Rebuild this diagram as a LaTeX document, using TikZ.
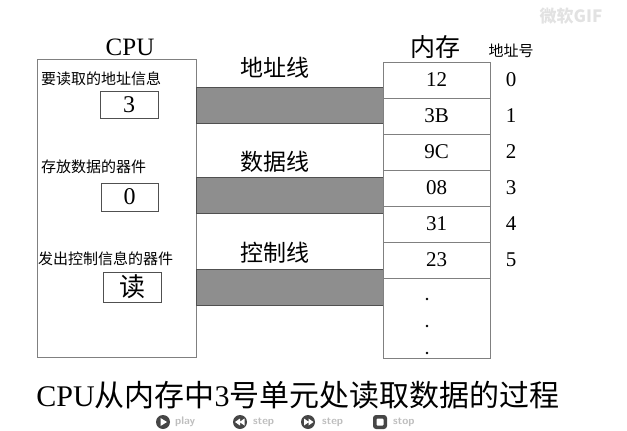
\documentclass[tikz,border=0pt]{standalone}
\usepackage{fontspec}
\setmainfont{Liberation Serif}
\newfontfamily\cjk{Noto Sans CJK SC}
\usepackage{xcolor}
\definecolor{busgray}{RGB}{142,142,142}
\definecolor{busline}{RGB}{80,80,80}
\definecolor{boxgray}{RGB}{128,128,128}
\definecolor{uigray}{RGB}{190,190,190}
\definecolor{icongray}{RGB}{70,70,70}
\usetikzlibrary{positioning}

\begin{document}
\begin{tikzpicture}[x=1pt,y=-1pt,
    small/.style={font=\cjk\fontsize{15}{15}\selectfont, inner sep=0pt},
    buslabel/.style={font=\cjk\fontsize{23}{23}\selectfont, inner sep=0pt},
    valbox/.style={draw=busline, inner sep=0pt, font=\fontsize{24}{24}\selectfont},
    cell/.style={draw=boxgray, minimum width=107pt, minimum height=36pt,
                 inner sep=0pt, font=\fontsize{21}{21}\selectfont},
    bus/.style={fill=busgray, draw=busline, line width=0.8pt},
    ui/.style={font=\sffamily\bfseries\fontsize{11}{11}\selectfont, text=uigray, inner sep=0pt}]
  \useasboundingbox (0,0) rectangle (627,431);

  % CPU
  \node[draw=boxgray, minimum width=159pt, minimum height=298pt, inner sep=0pt]
    (cpu) at (116.5,208) {};
  \node[font=\fontsize{25}{25}\selectfont, inner sep=0pt] (cpulbl) at (130,47) {CPU};

  \node[small, anchor=west] (addrinfo) at (41,79) {要读取的地址信息};
  \node[valbox, minimum width=58pt, minimum height=27pt] (addrval) at (129,104.5) {3};
  \node[small, anchor=west] (datainfo) at (41,167) {存放数据的器件};
  \node[valbox, minimum width=57pt, minimum height=28pt] (dataval) at (129.5,197) {0};
  \node[small, anchor=west] (ctrlinfo) at (38,259) {发出控制信息的器件};
  \node[valbox, minimum width=58pt, minimum height=30pt, font=\cjk\fontsize{26}{26}\selectfont]
    (ctrlval) at (132,287) {读};

  % Bus lines
  \def\bl{196}
  \def\br{383}
  \foreach \name/\top/\txt/\ty in {abus/87/地址线/68, dbus/177/数据线/162, cbus/269/控制线/253}{
    \draw[bus] (\bl,\top) rectangle (\br,\top+36);
    \node[buslabel] (\name) at (275,\ty) {\txt};
  }

  % Memory
  \node[font=\cjk\fontsize{25}{25}\selectfont, inner sep=0pt] (memlbl) at (435,47) {内存};
  \node[small] (addrlbl) at (511,51) {地址号};
  \foreach \i/\val in {0/12, 1/3B, 2/9C, 3/08, 4/31, 5/23}{
    \node[cell] (m\i) at (436.5,{80+36*\i}) {\val};
    \node[font=\fontsize{21}{21}\selectfont, inner sep=0pt] (a\i) at (511,{80+36*\i}) {\i};
  }
  \node[cell, minimum height=80pt, below=0pt of m5] (mrest) {};
  \foreach \k/\dy in {1/299, 2/326, 3/353}
    \fill (427,\dy) circle (1.3) coordinate (dot\k);

  % Caption
  \node[font=\fontsize{30}{30}\selectfont, inner sep=0pt] (caption) at (298,395)
    {CPU{\cjk 从内存中}3{\cjk 号单元处读取数据的过程}};

  % Player controls and watermark
  \fill[icongray] (163,422) circle (7);
  \fill[white] (160.5,418) -- (167,422) -- (160.5,426) -- cycle;
  \node[ui, anchor=west] (play) at (175,422) {play};
  \fill[icongray] (240,422) circle (7);
  \fill[white] (240,418.5) -- (235,422) -- (240,425.5) -- cycle
              (244.5,418.5) -- (239.5,422) -- (244.5,425.5) -- cycle;
  \node[ui, anchor=west] (stepb) at (253,422) {step};
  \fill[icongray] (308,422) circle (7);
  \fill[white] (304,418.5) -- (309,422) -- (304,425.5) -- cycle
              (308.5,418.5) -- (313.5,422) -- (308.5,425.5) -- cycle;
  \node[ui, anchor=west] (stepf) at (322,422) {step};
  \fill[icongray, rounded corners=3pt] (373,415) rectangle (387,429);
  \fill[white, rounded corners=1pt] (376.5,418.5) rectangle (383.5,425.5);
  \node[ui, anchor=west] (stop) at (393,422) {stop};
  \node[font=\cjk\bfseries\itshape\fontsize{17}{17}\selectfont, text=uigray!45, inner sep=0pt]
    (wmark) at (571,16) {微软GIF};
\end{tikzpicture}
\end{document}
